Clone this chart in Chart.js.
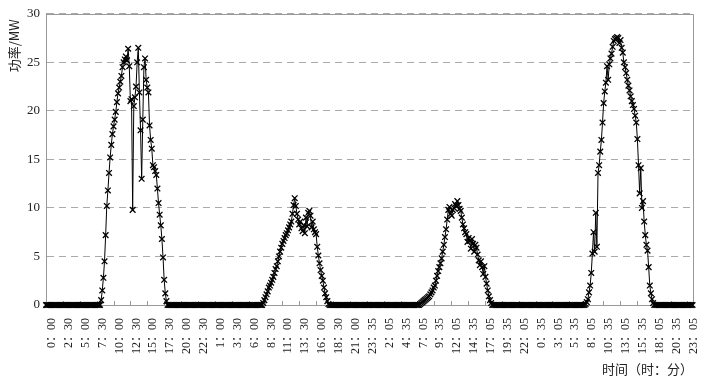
<!DOCTYPE html>
<html>
<head>
<meta charset="utf-8">
<script src="https://cdn.jsdelivr.net/npm/chart.js@4.4.0/dist/chart.umd.min.js"></script>
<style>
    html, body { margin: 0; padding: 0; background: #fff; }
</style>
</head>
<body>
<canvas id="theGraph" width="707" height="382"></canvas>
<script>
// tick labels on the time axis, one every 30 samples (5 min each)
var tickLabels = ["0：00","2：30","5：00","7：30","10：00","12：30","15：00","17：30","20：00","22：30",
    "1：00","3：30","6：00","8：30","11：00","13：30","16：00","18：30","21：00","23：35",
    "2：05","4：35","7：05","9：35","12：05","14：35","17：05","19：35","22：05",
    "0：35","3：05","5：35","8：05","10：35","13：05","15：35","18：05","20：35","23：05"];
var tickStep = 30;
var lastSample = 1150;

// sample index where each day begins (day 2 misses one sample)
var dayStart = [0, 288, 575, 863];
var slotSamples = 2; // values below are every 10 min

// power, MW, every 10 minutes from 0:00 (12 values per row = 2 hours)
var day1 = [
    0,0,0,0,0,0,0,0,0,0,0,0,
    0,0,0,0,0,0,0,0,0,0,0,0,
    0,0,0,0,0,0,0,0,0,0,0,0,
    0,0,0,0,0,0,0,0,0,0,0,0,
    0,0.5,1.5,2.8,4.5,7.2,10.2,11.8,13.6,15.2,16.5,17.6,
    18.4,19.1,19.9,20.9,21.8,22.4,23.0,23.6,24.5,25.0,25.3,25.6,
    25.2,26.4,24.6,21.0,21.2,9.8,20.5,21.4,22.5,25.0,26.5,21.9,
    18.0,13.0,19.1,24.5,25.4,23.2,22.4,21.9,18.5,17.0,16.1,14.4,
    14.2,13.8,13.4,12.0,10.5,9.3,8.2,6.8,4.9,2.6,1.2,0.4,
    0,0,0,0,0,0,0,0,0,0,0,0,
    0,0,0,0,0,0,0,0,0,0,0,0,
    0,0,0,0,0,0,0,0,0,0,0,0
];
var day2 = [
    0,0,0,0,0,0,0,0,0,0,0,0,
    0,0,0,0,0,0,0,0,0,0,0,0,
    0,0,0,0,0,0,0,0,0,0,0,0,
    0,0,0,0,0,0,0,0,0,0,0,0,
    0,0.2,0.5,0.8,1.1,1.4,1.8,2.0,2.3,2.6,2.9,3.3,
    3.7,4.0,4.5,5.0,5.5,5.9,6.3,6.6,6.9,7.2,7.4,7.7,
    8.0,8.3,8.6,9.4,10.3,11.0,10.2,9.4,8.8,8.3,8.6,7.9,
    7.6,8.2,7.4,9.0,8.1,9.5,9.7,9.2,8.0,8.6,7.8,7.5,
    7.3,6.0,5.1,4.3,3.6,3.0,2.5,1.8,1.2,0.8,0.4,0.1,
    0,0,0,0,0,0,0,0,0,0,0,0,
    0,0,0,0,0,0,0,0,0,0,0,0,
    0,0,0,0,0,0,0,0,0,0,0,0
];
var day3 = [
    0,0,0,0,0,0,0,0,0,0,0,0,
    0,0,0,0,0,0,0,0,0,0,0,0,
    0,0,0,0,0,0,0,0,0,0,0,0,
    0,0,0,0,0,0,0,0,0,0.1,0.2,0.3,
    0.4,0.5,0.6,0.7,0.8,0.9,1.1,1.3,1.5,1.8,2.0,2.5,
    3.0,3.5,3.9,4.3,4.8,5.5,6.2,7.0,7.8,8.8,9.8,10.1,
    9.4,9.2,9.8,10.0,10.4,10.2,10.7,10.3,9.9,9.7,9.0,8.3,
    7.9,7.5,7.3,6.5,6.9,6.6,5.8,6.8,6.3,5.5,6.2,5.9,
    5.2,4.6,4.1,4.5,3.9,3.2,4.0,2.9,2.2,1.5,0.9,0.5,
    0.2,0,0,0,0,0,0,0,0,0,0,0,
    0,0,0,0,0,0,0,0,0,0,0,0,
    0,0,0,0,0,0,0,0,0,0,0,0
];
var day4 = [
    0,0,0,0,0,0,0,0,0,0,0,0,
    0,0,0,0,0,0,0,0,0,0,0,0,
    0,0,0,0,0,0,0,0,0,0,0,0,
    0,0,0,0,0,0,0,0,0,0,0,0,
    0.1,0.3,0.6,1.3,2.0,3.3,5.3,7.5,5.5,9.5,6.0,13.6,
    14.4,15.8,17.0,18.8,20.8,22.0,22.9,24.6,23.2,24.8,25.4,25.9,
    26.6,27.2,27.4,27.5,27.6,27.5,27.0,27.3,26.5,26.0,25.0,24.5,
    23.9,23.2,22.6,22.1,21.5,21.0,20.6,20.2,19.5,18.8,17.1,14.4,
    11.5,14.1,10.0,10.7,8.6,7.2,6.2,5.6,3.9,2.0,1.2,0.6,
    0.2,0,0,0,0,0,0,0,0,0,0,0,
    0,0,0,0,0,0,0,0,0,0,0,0,
    0,0,0,0,0,0,0,0,0,0,0,0
];
var days = [day1, day2, day3, day4];

var points = [];
days.forEach(function(day, d) {
    day.forEach(function(v, k) {
        points.push({x: dayStart[d] + k * slotSamples, y: v});
    });
});

var serif = '"Liberation Serif", "Noto Sans CJK SC", serif';
var cjk = '"Noto Sans CJK SC", sans-serif';

// box around the plot, little ticks inside the time axis, y title
var frame = {
    id: 'frame',
    beforeDatasetsDraw: function(chart) {
        var ctx = chart.ctx, a = chart.chartArea, xs = chart.scales.x;
        ctx.save();
        ctx.strokeStyle = '#999';
        ctx.lineWidth = 1;
        ctx.beginPath();
        ctx.rect(Math.round(a.left) + 0.5, Math.round(a.top) + 0.5, Math.round(a.right - a.left), Math.round(a.bottom - a.top));
        xs.ticks.forEach(function(t) {
            var px = Math.round(xs.getPixelForValue(t.value)) + 0.5;
            ctx.moveTo(px, a.bottom);
            ctx.lineTo(px, a.bottom - 4);
        });
        ctx.stroke();
        ctx.translate(14, a.top + 32);
        ctx.rotate(-Math.PI / 2);
        ctx.fillStyle = '#222';
        ctx.font = '13px ' + cjk;
        ctx.textAlign = 'center';
        ctx.textBaseline = 'middle';
        ctx.fillText('功率/MW', 0, 0);
        ctx.restore();
    }
};

var ctx = document.getElementById('theGraph').getContext('2d');
var theGraph = new Chart(ctx, {
    type: 'line',
    data: {
        datasets: [{
            data: points,
            clip: false,
            borderColor: '#000',
            borderWidth: 1,
            pointStyle: 'crossRot',
            pointRadius: 4,
            pointBorderWidth: 1.3,
            pointBorderColor: '#000',
            pointBackgroundColor: '#000',
            tension: 0
        }]
    },
    options: {
        responsive: false,
        animation: false,
        layout: { padding: { top: 10, right: 13, left: 0, bottom: 0 } },
        plugins: { legend: { display: false }, tooltip: { enabled: false } },
        scales: {
            x: {
                type: 'linear',
                min: 0,
                max: lastSample,
                afterFit: function(s) { s.height = 77; },
                afterBuildTicks: function(s) {
                    s.ticks = tickLabels.map(function(t, i) { return {value: i * tickStep}; });
                },
                grid: { display: false },
                border: { color: '#999' },
                ticks: {
                    autoSkip: false,
                    maxRotation: 90,
                    minRotation: 90,
                    padding: 5,
                    labelOffset: 6,
                    color: '#222',
                    font: { family: serif, size: 12 },
                    callback: function(value) { return tickLabels[Math.round(value / tickStep)]; }
                },
                title: {
                    display: true,
                    text: '时间（时：分）',
                    align: 'end',
                    color: '#222',
                    font: { family: cjk, size: 13 },
                    padding: { top: 0, bottom: 5 }
                }
            },
            y: {
                min: 0,
                max: 30,
                afterFit: function(s) { s.width = 46; },
                grid: { color: '#aaa', drawTicks: false },
                border: { color: '#999', dash: [7, 5] },
                ticks: {
                    stepSize: 5,
                    padding: 6,
                    color: '#222',
                    font: { family: serif, size: 13 }
                }
            }
        }
    },
    plugins: [frame]
});
</script>
</body>
</html>
